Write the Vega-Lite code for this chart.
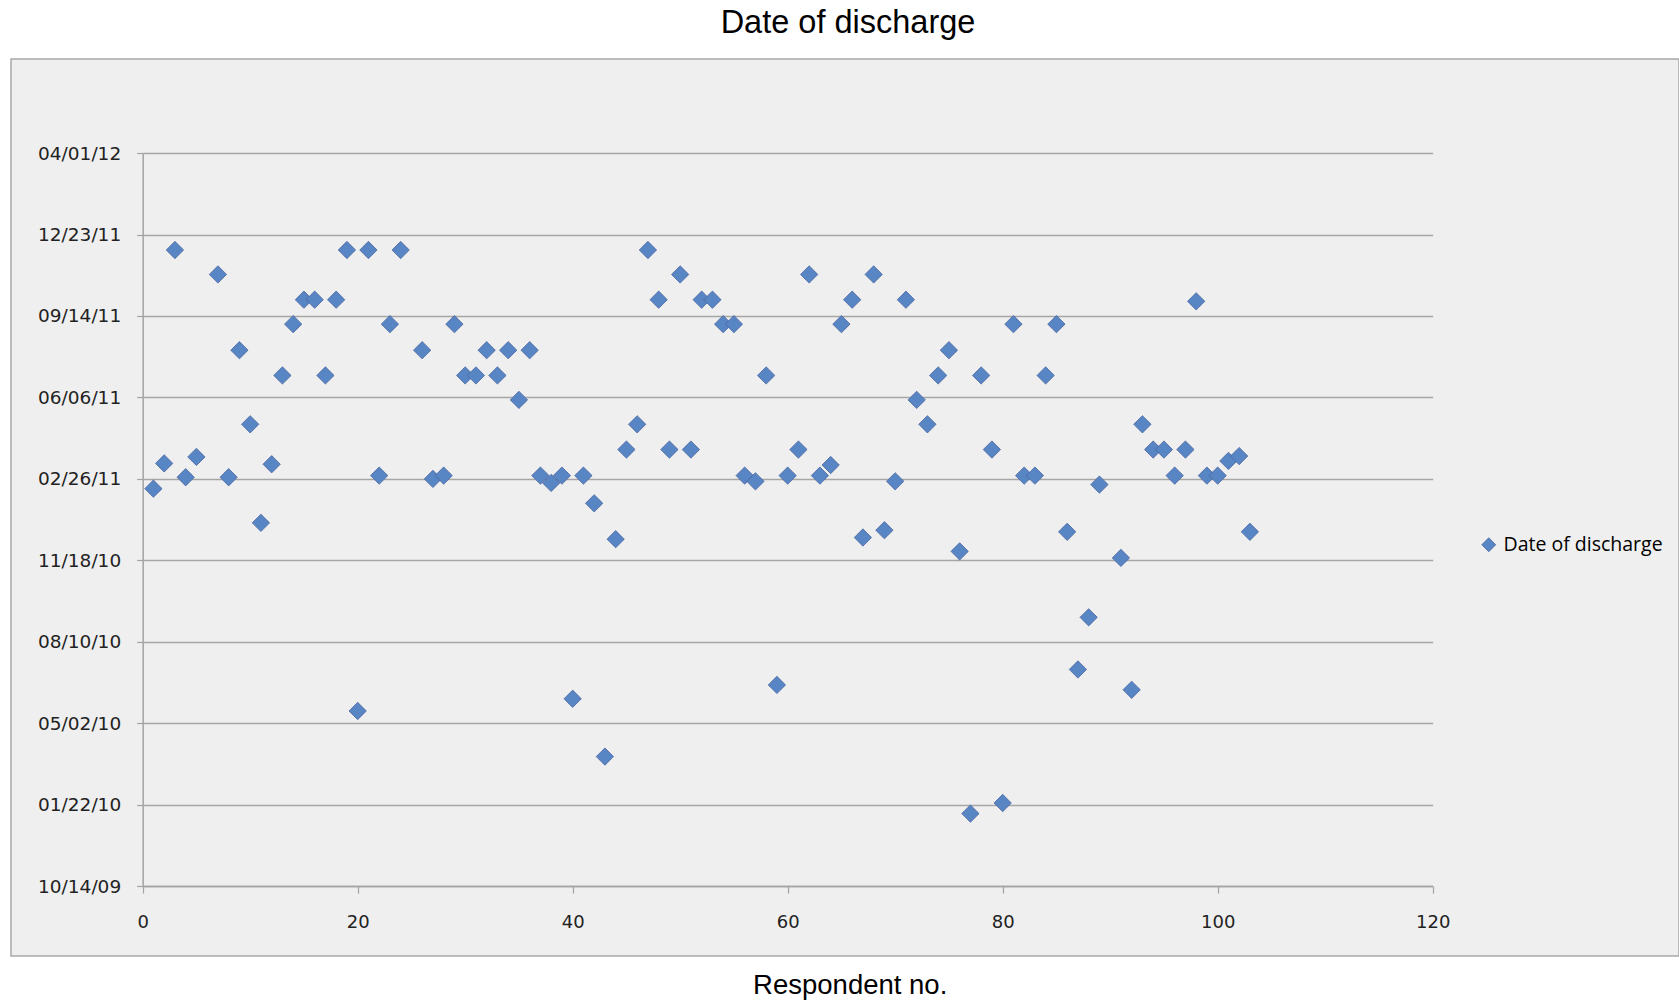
{
  "$schema": "https://vega.github.io/schema/vega-lite/v6.json",
  "width": 1668,
  "height": 897,
  "autosize": {"type": "none"},
  "padding": {"left": 11, "top": 59, "right": 0, "bottom": 49},
  "background": "white",
  "title": {
    "text": "Date of discharge",
    "font": "Liberation Sans",
    "fontSize": 32.5,
    "fontWeight": "normal",
    "color": "black",
    "anchor": "middle",
    "frame": "group",
    "offset": 20,
    "dx": 3
  },
  "data": {
    "values": [
      {"respondent": 1, "date": "2011-02-14"},
      {"respondent": 2, "date": "2011-03-17"},
      {"respondent": 3, "date": "2011-12-04"},
      {"respondent": 4, "date": "2011-02-28"},
      {"respondent": 5, "date": "2011-03-25"},
      {"respondent": 7, "date": "2011-11-04"},
      {"respondent": 8, "date": "2011-02-28"},
      {"respondent": 9, "date": "2011-08-03"},
      {"respondent": 10, "date": "2011-05-04"},
      {"respondent": 11, "date": "2011-01-03"},
      {"respondent": 12, "date": "2011-03-16"},
      {"respondent": 13, "date": "2011-07-03"},
      {"respondent": 14, "date": "2011-09-04"},
      {"respondent": 15, "date": "2011-10-04"},
      {"respondent": 16, "date": "2011-10-04"},
      {"respondent": 17, "date": "2011-07-03"},
      {"respondent": 18, "date": "2011-10-04"},
      {"respondent": 19, "date": "2011-12-04"},
      {"respondent": 20, "date": "2010-05-17"},
      {"respondent": 21, "date": "2011-12-04"},
      {"respondent": 22, "date": "2011-03-02"},
      {"respondent": 23, "date": "2011-09-04"},
      {"respondent": 24, "date": "2011-12-04"},
      {"respondent": 26, "date": "2011-08-03"},
      {"respondent": 27, "date": "2011-02-26"},
      {"respondent": 28, "date": "2011-03-02"},
      {"respondent": 29, "date": "2011-09-04"},
      {"respondent": 30, "date": "2011-07-03"},
      {"respondent": 31, "date": "2011-07-03"},
      {"respondent": 32, "date": "2011-08-03"},
      {"respondent": 33, "date": "2011-07-03"},
      {"respondent": 34, "date": "2011-08-03"},
      {"respondent": 35, "date": "2011-06-03"},
      {"respondent": 36, "date": "2011-08-03"},
      {"respondent": 37, "date": "2011-03-02"},
      {"respondent": 38, "date": "2011-02-21"},
      {"respondent": 39, "date": "2011-03-02"},
      {"respondent": 40, "date": "2010-06-01"},
      {"respondent": 41, "date": "2011-03-02"},
      {"respondent": 42, "date": "2011-01-27"},
      {"respondent": 43, "date": "2010-03-22"},
      {"respondent": 44, "date": "2010-12-14"},
      {"respondent": 45, "date": "2011-04-03"},
      {"respondent": 46, "date": "2011-05-04"},
      {"respondent": 47, "date": "2011-12-04"},
      {"respondent": 48, "date": "2011-10-04"},
      {"respondent": 49, "date": "2011-04-03"},
      {"respondent": 50, "date": "2011-11-04"},
      {"respondent": 51, "date": "2011-04-03"},
      {"respondent": 52, "date": "2011-10-04"},
      {"respondent": 53, "date": "2011-10-04"},
      {"respondent": 54, "date": "2011-09-04"},
      {"respondent": 55, "date": "2011-09-04"},
      {"respondent": 56, "date": "2011-03-02"},
      {"respondent": 57, "date": "2011-02-23"},
      {"respondent": 58, "date": "2011-07-03"},
      {"respondent": 59, "date": "2010-06-18"},
      {"respondent": 60, "date": "2011-03-02"},
      {"respondent": 61, "date": "2011-04-03"},
      {"respondent": 62, "date": "2011-11-04"},
      {"respondent": 63, "date": "2011-03-02"},
      {"respondent": 64, "date": "2011-03-15"},
      {"respondent": 65, "date": "2011-09-04"},
      {"respondent": 66, "date": "2011-10-04"},
      {"respondent": 67, "date": "2010-12-16"},
      {"respondent": 68, "date": "2011-11-04"},
      {"respondent": 69, "date": "2010-12-25"},
      {"respondent": 70, "date": "2011-02-23"},
      {"respondent": 71, "date": "2011-10-04"},
      {"respondent": 72, "date": "2011-06-03"},
      {"respondent": 73, "date": "2011-05-04"},
      {"respondent": 74, "date": "2011-07-03"},
      {"respondent": 75, "date": "2011-08-03"},
      {"respondent": 76, "date": "2010-11-29"},
      {"respondent": 77, "date": "2010-01-11"},
      {"respondent": 78, "date": "2011-07-03"},
      {"respondent": 79, "date": "2011-04-03"},
      {"respondent": 80, "date": "2010-01-24"},
      {"respondent": 81, "date": "2011-09-04"},
      {"respondent": 82, "date": "2011-03-02"},
      {"respondent": 83, "date": "2011-03-02"},
      {"respondent": 84, "date": "2011-07-03"},
      {"respondent": 85, "date": "2011-09-04"},
      {"respondent": 86, "date": "2010-12-23"},
      {"respondent": 87, "date": "2010-07-07"},
      {"respondent": 88, "date": "2010-09-09"},
      {"respondent": 89, "date": "2011-02-19"},
      {"respondent": 91, "date": "2010-11-21"},
      {"respondent": 92, "date": "2010-06-12"},
      {"respondent": 93, "date": "2011-05-04"},
      {"respondent": 94, "date": "2011-04-03"},
      {"respondent": 95, "date": "2011-04-03"},
      {"respondent": 96, "date": "2011-03-02"},
      {"respondent": 97, "date": "2011-04-03"},
      {"respondent": 98, "date": "2011-10-02"},
      {"respondent": 99, "date": "2011-03-02"},
      {"respondent": 100, "date": "2011-03-02"},
      {"respondent": 101, "date": "2011-03-20"},
      {"respondent": 102, "date": "2011-03-26"},
      {"respondent": 103, "date": "2010-12-23"}
    ]
  },
  "mark": {
    "type": "point",
    "shape": "diamond",
    "filled": true,
    "size": 300,
    "opacity": 1,
    "stroke": "#4a64a0",
    "strokeWidth": 0.8
  },
  "encoding": {
    "x": {
      "field": "respondent",
      "type": "quantitative",
      "scale": {"domain": [0, 120], "range": [131.67, 1421.67], "nice": false, "zero": false},
      "axis": {
        "title": "Respondent no.",
        "values": [0, 20, 40, 60, 80, 100, 120],
        "grid": false,
        "offset": -69.9,
        "tickSize": 7,
        "tickColor": "#a3a3a3",
        "tickWidth": 1.2,
        "domainColor": "#a3a3a3",
        "domainWidth": 1.5,
        "labelPadding": 20,
        "labelFont": "DejaVu Sans",
        "labelFontSize": 18,
        "labelColor": "#222222",
        "labelFlush": false,
        "labelOverlap": false,
        "titleFont": "Liberation Sans",
        "titleFontSize": 27.5,
        "titleFontWeight": "normal",
        "titleColor": "black",
        "titleX": 838.7,
        "titleY": 99,
        "titleAlign": "center",
        "titleBaseline": "middle"
      }
    },
    "y": {
      "field": "date",
      "type": "temporal",
      "scale": {
        "type": "utc",
        "domain": [
          {"year": 2009, "month": 10, "date": 14, "utc": true},
          {"year": 2012, "month": 4, "date": 1, "utc": true}
        ],
        "range": [827.1, 94.1],
        "nice": false
      },
      "axis": {
        "title": null,
        "values": [
          {"year": 2009, "month": 10, "date": 14, "utc": true},
          {"year": 2010, "month": 1, "date": 22, "utc": true},
          {"year": 2010, "month": 5, "date": 2, "utc": true},
          {"year": 2010, "month": 8, "date": 10, "utc": true},
          {"year": 2010, "month": 11, "date": 18, "utc": true},
          {"year": 2011, "month": 2, "date": 26, "utc": true},
          {"year": 2011, "month": 6, "date": 6, "utc": true},
          {"year": 2011, "month": 9, "date": 14, "utc": true},
          {"year": 2011, "month": 12, "date": 23, "utc": true},
          {"year": 2012, "month": 4, "date": 1, "utc": true}
        ],
        "format": "%m/%d/%y",
        "grid": true,
        "gridColor": "#a6a6a6",
        "gridWidth": 1.5,
        "offset": -131.67,
        "tickSize": 6,
        "tickColor": "#a3a3a3",
        "tickWidth": 1.2,
        "domainColor": "#a3a3a3",
        "domainWidth": 1.5,
        "labelPadding": 16,
        "labelFont": "DejaVu Sans",
        "labelFontSize": 18.5,
        "labelColor": "#222222",
        "labelFlush": false,
        "labelOverlap": false
      }
    },
    "color": {
      "datum": "Date of discharge",
      "scale": {"range": ["#5886c4"]},
      "legend": {
        "title": null,
        "orient": "none",
        "legendX": 1468,
        "legendY": 476,
        "padding": 0,
        "symbolType": "diamond",
        "symbolSize": 196,
        "symbolStrokeColor": "#4a64a0",
        "symbolStrokeWidth": 0.8,
        "labelFont": "Open Sans",
        "labelFontSize": 19.5,
        "labelColor": "black",
        "labelOffset": 5
      }
    }
  },
  "config": {
    "view": {"fill": "#efefef", "stroke": "#a9a9a9", "strokeWidth": 1.5}
  }
}
